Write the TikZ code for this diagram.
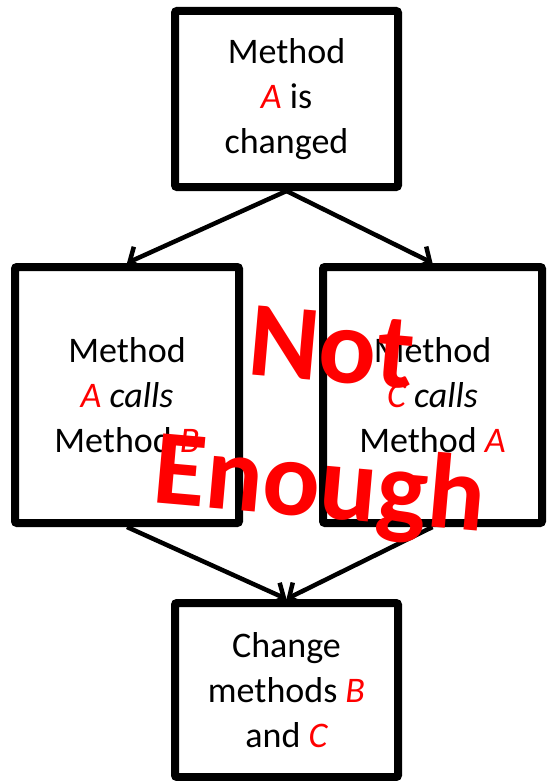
\documentclass[tikz,border=0pt]{standalone}
\usepackage{fontspec}
\setmainfont{Carlito}
\usetikzlibrary{arrows.meta}
\newcommand{\mth}[1]{\textcolor{red}{\itshape #1}}
\begin{document}
\begin{tikzpicture}[x=1pt,y=-1pt,
    box/.style={draw,line width=8pt,rounded corners=2pt,align=center,
        font=\fontsize{36}{45}\selectfont},
    arr/.style={line width=4.5pt,-{Straight Barb[length=10pt,width=24pt]}}]
    \useasboundingbox (0,0) rectangle (546,781);
    \node[box,minimum width=223pt,minimum height=176pt] (chg) at(286.5,99) {Method\\\mth{A} is\\changed};
    \node[box,minimum width=224pt,minimum height=256pt] (ab) at(127,395) {Method\\\mth{A} \textit{calls}\\Method \mth{B}};
    \node[box,minimum width=219pt,minimum height=256pt] (ca) at(432.5,395) {Method\\\mth{C} \textit{calls}\\Method \mth{A}};
    \node[box,minimum width=223pt,minimum height=174pt] (bc) at(286.5,690) {Change\\methods \mth{B}\\and \mth{C}};
    \draw[arr] (chg.south) -- (ab.north);
    \draw[arr] (chg.south) -- (ca.north);
    \draw[arr] (ab.south) -- (bc.north);
    \draw[arr] (ca.south) -- (bc.north);
    % stamp on top
    \node[red,rotate=-5,align=center,font=\fontsize{107}{136}\selectfont\bfseries] (stamp) at(325,424) {Not\\Enough};
\end{tikzpicture}
\end{document}
